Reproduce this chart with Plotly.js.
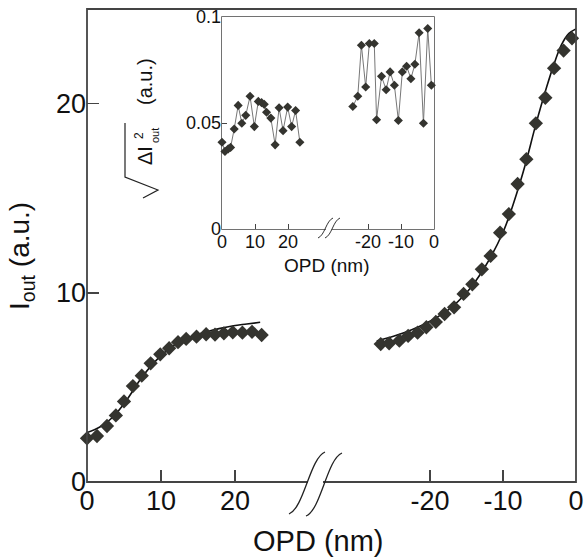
<!DOCTYPE html>
<html><head><meta charset="utf-8">
<script src="https://cdn.plot.ly/plotly-3.0.1.min.js"></script>
<style>html,body{margin:0;padding:0;background:#fff}</style>
</head><body><div id="plot" style="width:584px;height:557px"></div>
<script>
// Main panel: measured points (diamonds) and fit (solid)
var mainLeftOPD = [0,1.35,2.7,3.9,5.0,6.2,7.4,8.6,9.9,11.1,12.3,13.4,14.8,16.1,17.3,18.5,19.7,21.0,22.3,23.6];
var mainLeftI   = [2.31,2.43,2.96,3.52,4.26,5.07,5.62,6.27,6.75,7.07,7.39,7.56,7.68,7.81,7.79,7.86,7.91,7.89,7.94,7.77];
var fitLeftOPD  = [0,1.8,3.55,5.36,7.16,8.96,10.77,12.57,14.36,16.2,18,19.8,21.6,23.4];
var fitLeftI    = [2.61,2.92,3.45,4.33,5.39,6.27,6.94,7.41,7.72,7.94,8.12,8.26,8.35,8.44];
var mainRightOPD = [-26.75,-25.6,-24.2,-23.0,-21.7,-20.5,-19.2,-18.0,-16.7,-15.4,-14.2,-12.9,-11.7,-10.4,-9.2,-8.0,-6.8,-5.5,-4.2,-3.0,-1.7,-0.55];
var mainRightI   = [7.29,7.33,7.47,7.72,7.89,8.18,8.46,8.88,9.23,9.94,10.45,11.24,11.95,13.18,14.16,15.75,17.06,18.96,20.31,21.87,22.80,23.45];
var fitRightOPD  = [-27.3,-25,-22.5,-20,-17.5,-15,-12.5,-10,-8.5,-7,-5.5,-4,-3,-2,-1,0];
var fitRightI    = [7.45,7.7,8.05,8.5,9.1,10.0,11.35,13.2,14.8,16.7,18.9,20.9,22.1,23.1,23.7,23.95];
// Inset: noise sqrt(<dI^2>)
var insetLeftOPD = [0,0.9,1.9,2.6,3.7,4.9,6.0,7.2,8.5,9.8,11.0,12.0,12.8,13.5,14.8,16.1,17.3,18.5,19.9,21.1,22.3,23.6];
var insetLeftN   = [0.0409,0.0366,0.0378,0.0385,0.0472,0.0583,0.0499,0.0536,0.0626,0.0483,0.0602,0.0596,0.0588,0.0551,0.0523,0.0397,0.0572,0.0464,0.0575,0.0483,0.0559,0.0409];
var insetRightOPD = [-24.6,-23.1,-22.0,-20.7,-19.6,-18.1,-17.4,-15.9,-14.5,-13.3,-12.0,-10.8,-9.6,-8.3,-7.0,-5.8,-4.5,-3.2,-1.9,-0.8,0.5];
var insetRightN   = [0.0578,0.0626,0.0867,0.0670,0.0875,0.0875,0.0515,0.0720,0.0657,0.0741,0.0678,0.0512,0.0741,0.0768,0.0709,0.0777,0.0926,0.0499,0.0946,0.0678,0.0701];
// Tick labels
var mainLeftTicks = [0,10,20];
var mainRightTicks = [-20,-10,0];
var mainYTicks = [0,10,20];
var insetYTicks = [0,0.05,0.1];
var insetYTickText = ['0','0.05','0.1'];

var FONT = 'Liberation Sans, Arial, sans-serif';
var MK = '#34342f';
var AX = '#444';

// pixel -> paper helpers (plot area l=87,t=9,w=489,h=473)
var L=87,T=9,W=489,H=473;
function px(x){return (x-L)/W;}
function py(y){return (T+H-y)/H;}

var traces = [
  {x:fitLeftOPD,y:fitLeftI,xaxis:'x',yaxis:'y',mode:'lines',line:{color:'#111',width:1.6,shape:'spline'},hoverinfo:'skip'},
  {x:mainLeftOPD,y:mainLeftI,xaxis:'x',yaxis:'y',mode:'markers',marker:{symbol:'diamond',size:11,color:MK},cliponaxis:false},
  {x:fitRightOPD,y:fitRightI,xaxis:'x2',yaxis:'y',mode:'lines',line:{color:'#111',width:1.6,shape:'spline'},hoverinfo:'skip'},
  {x:mainRightOPD,y:mainRightI,xaxis:'x2',yaxis:'y',mode:'markers',marker:{symbol:'diamond',size:11,color:MK},cliponaxis:false},
  {x:insetLeftOPD,y:insetLeftN,xaxis:'x3',yaxis:'y2',mode:'lines+markers',line:{color:'#777',width:1},marker:{symbol:'diamond',size:7,color:MK},cliponaxis:false},
  {x:insetRightOPD,y:insetRightN,xaxis:'x4',yaxis:'y2',mode:'lines+markers',line:{color:'#777',width:1},marker:{symbol:'diamond',size:7,color:MK},cliponaxis:false}
];

var mainBreak = px(317);
var insetL = px(222), insetR = px(434), insetBreak = px(329);
var insetB = py(229), insetT = py(17);

function ax(extra){
  return Object.assign({showgrid:false,zeroline:false,showline:false,ticks:'inside',
    tickcolor:AX,tickwidth:1.5,tickfont:{family:FONT,size:27,color:'#111'},tickmode:'array'},extra);
}
var insetTickFont = {family:FONT,size:18,color:'#111'};

var layout = {
  width:584,height:557,autosize:false,showlegend:false,
  margin:{l:L,r:584-L-W,t:T,b:557-T-H,pad:0},
  paper_bgcolor:'#fff',plot_bgcolor:'#fff',
  font:{family:FONT,color:'#111'},
  xaxis: ax({domain:[0,mainBreak],range:[0,(317-87)/7.4],anchor:'y',tickvals:mainLeftTicks,ticktext:mainLeftTicks.map(String),ticklen:12}),
  xaxis2: ax({domain:[mainBreak,1],range:[-(576-317)/7.3,0],anchor:'y',tickvals:mainRightTicks,ticktext:mainRightTicks.map(String),ticklen:12}),
  yaxis: ax({domain:[0,1],range:[0,25],anchor:'x',tickvals:mainYTicks,ticktext:mainYTicks.map(String),ticklen:12}),
  xaxis3: ax({domain:[insetL,insetBreak],range:[0,(329-222)/3.3],anchor:'y2',tickvals:mainLeftTicks,ticktext:mainLeftTicks.map(String),ticklen:5,tickwidth:1,tickfont:insetTickFont}),
  xaxis4: ax({domain:[insetBreak,insetR],range:[-(434-329)/3.3,0],anchor:'y2',tickvals:mainRightTicks,ticktext:mainRightTicks.map(String),ticklen:5,tickwidth:1,tickfont:insetTickFont}),
  yaxis2: ax({domain:[insetB,insetT],range:[0,0.1],anchor:'x3',tickvals:insetYTicks,ticktext:insetYTickText,ticklen:5,tickwidth:1,tickfont:insetTickFont}),
  shapes:[
    // main frame
    {type:'rect',xref:'paper',yref:'paper',x0:0,x1:1,y0:0,y1:1,line:{color:AX,width:1.8},layer:'above'},
    // inset frame
    {type:'rect',xref:'paper',yref:'paper',x0:insetL,x1:insetR,y0:insetB,y1:insetT,line:{color:AX,width:1.5},layer:'below'},
    // main axis break
    {type:'rect',xref:'paper',yref:'paper',x0:px(308),x1:px(323),y0:py(487),y1:py(479),fillcolor:'#fff',line:{width:0},layer:'above'},
    {type:'path',xref:'paper',yref:'paper',layer:'above',line:{color:'#222',width:1.3},
      path:'M '+px(289)+','+py(514)+' C '+px(304)+','+py(508)+' '+px(310)+','+py(458)+' '+px(325)+','+py(452)},
    {type:'path',xref:'paper',yref:'paper',layer:'above',line:{color:'#222',width:1.3},
      path:'M '+px(306)+','+py(516)+' C '+px(321)+','+py(510)+' '+px(327)+','+py(459)+' '+px(342)+','+py(453)},
    // inset axis break
    {type:'rect',xref:'paper',yref:'paper',x0:px(326),x1:px(331.5),y0:py(231),y1:py(227),fillcolor:'#fff',line:{width:0},layer:'above'},
    {type:'path',xref:'paper',yref:'paper',layer:'above',line:{color:'#333',width:1},
      path:'M '+px(318)+','+py(238)+' C '+px(325)+','+py(235)+' '+px(326)+','+py(221)+' '+px(333)+','+py(218)},
    {type:'path',xref:'paper',yref:'paper',layer:'above',line:{color:'#333',width:1},
      path:'M '+px(325)+','+py(238)+' C '+px(332)+','+py(235)+' '+px(333)+','+py(221)+' '+px(340)+','+py(218)},
    // radical sign of inset y title
    {type:'path',xref:'paper',yref:'paper',layer:'above',line:{color:'#222',width:1.2},
      path:'M '+px(125)+','+py(123)+' L '+px(125)+','+py(177)+' L '+px(158)+','+py(190)+' L '+px(143)+','+py(198)}
  ],
  annotations:[
    {xref:'paper',yref:'paper',x:px(318),y:py(541),text:'OPD (nm)',showarrow:false,font:{family:FONT,size:29,color:'#111'},xanchor:'center',yanchor:'middle'},
    {xref:'paper',yref:'paper',x:px(22),y:py(256),text:'I<sub>out</sub> (a.u.)',textangle:-90,showarrow:false,font:{family:FONT,size:28,color:'#111'},xanchor:'center',yanchor:'middle'},
    {xref:'paper',yref:'paper',x:px(327),y:py(265),text:'OPD (nm)',showarrow:false,font:{family:FONT,size:19,color:'#111'},xanchor:'center',yanchor:'middle'},
    {xref:'paper',yref:'paper',x:px(145),y:py(82),text:'(a.u.)',textangle:-90,showarrow:false,font:{family:FONT,size:20,color:'#111'},xanchor:'center',yanchor:'middle'},
    {xref:'paper',yref:'paper',x:px(145),y:py(156),text:'ΔI',textangle:-90,showarrow:false,font:{family:FONT,size:20,color:'#111'},xanchor:'center',yanchor:'middle'},
    {xref:'paper',yref:'paper',x:px(139),y:py(136),text:'2',textangle:-90,showarrow:false,font:{family:FONT,size:12,color:'#111'},xanchor:'center',yanchor:'middle'},
    {xref:'paper',yref:'paper',x:px(155),y:py(136),text:'out',textangle:-90,showarrow:false,font:{family:FONT,size:11,color:'#111'},xanchor:'center',yanchor:'middle'}
  ]
};

Plotly.newPlot('plot',traces,layout,{staticPlot:true,displayModeBar:false});
</script></body></html>
